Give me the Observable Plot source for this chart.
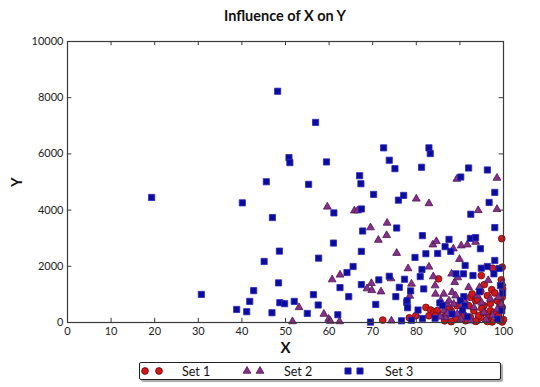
<!DOCTYPE html>
<html><head><meta charset="utf-8">
<script src="https://cdn.jsdelivr.net/npm/d3@7"></script>
<script src="https://cdn.jsdelivr.net/npm/@observablehq/plot@0.6"></script>
<style>
body{margin:0;background:#fff;font-family:Lato,sans-serif;position:relative;width:540px;height:387px;overflow:hidden;}
#title{height:30px;line-height:32px;font-weight:bold;font-size:14.5px;text-align:center;padding-left:30px;width:510px;color:#111;}
#legend{position:absolute;left:139px;top:362px;width:360px;height:16px;border:1px solid #222;border-radius:2px;box-shadow:2px 2px 1px #aaa;background:#fff;}
</style></head><body>
<div id="title">Influence of X on Y</div>
<div id="chart"></div>
<div id="legend"></div>
<script>
const seriesNames = ["Set 1", "Set 2", "Set 3"];
const xTicks = [0,10,20,30,40,50,60,70,80,90,100];
const yTicks = [0,2000,4000,6000,8000,10000];

const set1 = [[72.3,86],[78.4,168],[79.9,240],[82.2,537],[82.9,240],[83.3,444],[84.0,358],[84.8,419],[84.4,240],[86.7,240],[88.0,419],[89.4,598],[85.1,1553],[92.4,895],[92.8,1016],[93.6,777],[94.0,837],[95.5,598],[97.0,419],[98.2,300],[94.7,179],[96.3,122],[98.9,122],[93.9,61],[97.4,20],[99.7,20],[93.2,419],[94.3,240],[95.5,358],[96.6,179],[97.8,358],[98.9,240],[99.7,537],[99.7,895],[92.4,179],[91.3,61],[93.6,40],[96.3,40],[94.9,1671],[95.6,1349],[97.3,1170],[97.5,1930],[99.7,1968],[99.5,1517],[99.6,2984],[96.3,955],[97.0,680],[98.6,776],[99.8,1200],[86.5,60],[89.0,150],[88.0,30],[90.5,350],[87.5,500],[91.0,250],[99.2,650],[98.0,1050],[95.0,500],[92.0,600],[100,100],[99.0,80],[94.8,1100]];

const set2 = [[51.6,36],[53.1,537],[58.8,300],[59.6,4115],[59.9,122],[60.3,50],[60.7,1528],[62.4,36],[62.5,1696],[65.8,3980],[66.5,3980],[68.7,1206],[69.5,3378],[69.7,1396],[69.8,1145],[71.3,2934],[71.9,1098],[73.2,3102],[73.3,3542],[74.2,1564],[74.3,61],[75.5,2469],[78.1,1921],[78.5,945],[78.9,1374],[80.0,4401],[82.9,4236],[82.9,1980],[83.9,1635],[83.8,2769],[84.6,2888],[84.3,1313],[84.4,1016],[85.6,777],[86.3,1016],[87.1,658],[88.5,2626],[88.8,1431],[88.1,1732],[89.3,5106],[89.9,2254],[90.3,2734],[91.7,2769],[93.6,2862],[94.2,3990],[94.5,1252],[98.5,5142],[98.5,4032],[88.2,1073],[89.0,955],[87.5,777],[88.6,658],[86.3,419],[87.8,358],[89.4,300],[86.7,179],[94.0,955],[97.0,837],[98.9,895],[93.2,537],[95.5,358],[98.6,479],[87.1,322],[90.2,120],[92.5,60],[96.0,100],[99.5,650],[92.0,1250],[96.5,1500],[99.7,1400],[85.5,200],[91.0,800],[95.0,700],[97.5,250],[89.5,1600]];

const set3 = [[19.3,4450],[30.7,1000],[38.8,465],[40.1,4258],[41.1,383],[41.8,751],[42.7,1134],[45.1,2172],[45.6,5009],[46.9,347],[47.0,3735],[48.2,8229],[48.4,1410],[48.6,2540],[48.7,705],[49.8,669],[50.8,5868],[51.0,5689],[52.0,751],[55.0,322],[55.3,4916],[56.4,991],[56.9,7120],[57.5,623],[57.6,2290],[59.4,5714],[61.0,2827],[61.1,3900],[62.0,276],[62.5,1242],[64.1,1778],[64.5,920],[65.5,1993],[67.0,5224],[67.3,4938],[67.4,4040],[67.4,2530],[67.4,1349],[67.7,3256],[69.5,14],[70.2,4558],[70.7,644],[71.4,1517],[72.5,6215],[73.8,5775],[73.8,1646],[75.1,5474],[75.3,920],[75.5,3363],[75.9,4354],[76.1,1252],[76.6,61],[77.1,4523],[77.3,1539],[77.8,716],[78.0,526],[78.7,1124],[78.9,80],[79.7,2315],[80.4,444],[80.9,1635],[81.2,5524],[81.3,1886],[81.4,3091],[81.4,143],[81.7,1195],[82.2,2447],[82.9,6215],[83.2,6011],[84.9,2458],[85.4,694],[86.6,2698],[87.5,2959],[87.9,2530],[89.1,1732],[90.2,5177],[90.8,1732],[90.9,920],[90.1,777],[91.1,598],[90.6,444],[91.7,204],[91.2,2029],[92.0,5499],[92.4,2995],[92.5,3853],[93.0,1671],[93.6,3020],[94.7,2626],[94.9,1932],[96.3,5428],[96.7,4272],[96.3,1993],[97.8,1732],[98.0,4630],[98.0,3378],[98.0,2208],[99.0,1921],[99.3,1313],[98.6,122],[99.6,420],[86.0,600],[88.2,300],[84.3,150],[99.8,1050],[94.5,1100],[77.9,776]];

const toRows = (arr) => arr.map(([x, y]) => ({x, y}));
const styles = [
  {symbol: "circle", r: 3.4, fill: "#d01818", stroke: "#6e0a0a"},
  {symbol: "triangle", r: 2.9, fill: "#86308a", stroke: "#4e1450"},
  {symbol: "square", r: 3.5, fill: "#0c0c9c", stroke: "#2a2ac0"}
];
const sets = [set1, set2, set3];

const frameColor = "#3a3a3a";
const chart = Plot.plot({
  width: 540, height: 330,
  marginTop: 11, marginLeft: 67, marginRight: 37, marginBottom: 38,
  style: {fontFamily: "Lato, sans-serif", fontSize: "11px", color: "#222", background: "#fff"},
  x: {domain: [0, 100]},
  y: {domain: [0, 10000]},
  marks: [
    Plot.axisX(xTicks, {tickSize: 0, tickPadding: 5, label: null, tickFormat: d => String(d)}),
    Plot.axisY(yTicks, {tickSize: 0, tickPadding: 4, label: null, tickFormat: d => String(d)}),
    ...sets.map((s, i) => Plot.dot(toRows(s), {x: "x", y: "y", symbol: styles[i].symbol, r: styles[i].r, fill: styles[i].fill, stroke: styles[i].stroke, strokeWidth: 0.8})),
    Plot.ruleX(xTicks, {x: d => d, y1: 0, y2: 150, stroke: frameColor}),
    Plot.ruleX(xTicks, {x: d => d, y1: 10000, y2: 9850, stroke: frameColor}),
    Plot.ruleY(yTicks, {y: d => d, x1: 0, x2: 1, stroke: frameColor}),
    Plot.ruleY(yTicks, {y: d => d, x1: 99, x2: 100, stroke: frameColor}),
    Plot.frame({stroke: frameColor, strokeWidth: 1.2}),
    Plot.text(["X"], {frameAnchor: "bottom", lineAnchor: "middle", dy: 26, fontWeight: "bold", fontSize: 15, fill: "#111"}),
    Plot.text(["Y"], {frameAnchor: "left", lineAnchor: "middle", dx: -50, dy: 5, rotate: -90, fontWeight: "bold", fontSize: 15, fill: "#111"})
  ]
});
document.getElementById("chart").appendChild(chart);

// legend
const legendPos = [{m: [5, 19], t: 42}, {m: [107, 120], t: 144}, {m: [208, 220], t: 245}];
const lsvg = d3.select("#legend").append("svg").attr("width", 360).attr("height", 16).style("display", "block");
const symMap = {circle: d3.symbolCircle, triangle: d3.symbolTriangle, square: d3.symbolSquare};
seriesNames.forEach((name, i) => {
  const st = styles[i];
  legendPos[i].m.forEach(mx => {
    lsvg.append("path")
      .attr("d", d3.symbol(symMap[st.symbol], Math.PI * st.r * st.r)())
      .attr("transform", `translate(${mx},8)`)
      .attr("fill", st.fill).attr("stroke", st.stroke).attr("stroke-width", 0.8);
  });
  lsvg.append("text").attr("x", legendPos[i].t).attr("y", 12.5)
    .attr("font-family", "Lato, sans-serif").attr("font-size", 12.5).attr("fill", "#111")
    .text(name);
});
</script>
</body></html>
